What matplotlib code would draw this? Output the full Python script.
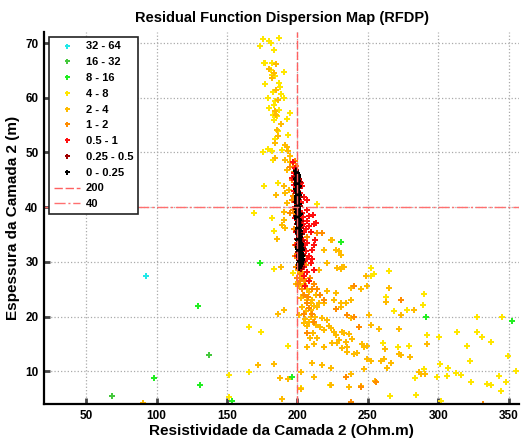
import matplotlib
matplotlib.use("Agg")
import matplotlib.pyplot as plt
from matplotlib.lines import Line2D

plt.rcParams['font.family'] = ['Liberation Sans', 'DejaVu Sans']
plt.rcParams['font.weight'] = 'bold'

# faixas de residuo (legenda) e cores
bins = ['32 - 64', '16 - 32', '8 - 16', '4 - 8', '2 - 4', '1 - 2',
        '0.5 - 1', '0.25 - 0.5', '0 - 0.25']
colors = ['#22e8e8', '#44c83c', '#22ee22', '#ffe600', '#ffbb00', '#ff8c00',
          '#ff1010', '#a00000', '#000000']

# pontos (resistividade, espessura) por faixa
cyan_x = [92.7]
cyan_y = [27.5]

g16_x = [68.2, 137.0]
g16_y = [5.4, 12.9]

g8_x = [173.3, 129.4, 130.6, 98.3, 153.6, 196.0, 230.6, 291.1, 352.7]
g8_y = [29.7, 21.9, 7.5, 8.8, 4.5, 8.9, 33.7, 19.9, 19.2]

y4_x = [175.6, 186.7, 179.9, 181.5, 173.7, 183.0, 176.6, 177.3, 182.2, 181.3,
        190.3, 182.2, 184.1, 176.8, 187.2, 187.5, 182.7, 188.2, 178.9, 184.4,
        190.3, 183.2, 179.6, 186.7, 182.5, 195.0, 185.8, 192.4, 183.2, 186.0,
        193.1, 183.9, 178.9, 175.6, 181.8, 189.1, 182.3, 176.1, 186.0, 169.5,
        181.8, 214.0, 183.4, 183.2, 196.5, 165.7, 174.2, 193.1, 165.7, 151.7,
        151.2, 252.4, 265.0, 251.9, 254.3, 262.6, 289.9, 289.4, 268.5, 278.0,
        327.8, 345.6, 292.2, 300.5, 313.6, 327.8, 331.4, 337.3, 320.7, 301.0,
        306.9, 322.6, 355.1, 289.9, 299.4, 306.5, 312.4, 315.9, 343.2, 349.6,
        323.0, 334.9, 337.7, 347.9, 344.9, 283.9, 301.7, 265.7, 283.2, 261.0,
        271.4, 279.2, 202.3, 223.0]
y4_y = [70.7, 70.9, 70.3, 70.0, 69.5, 68.7, 66.3, 66.4, 66.3, 65.0,
        64.8, 64.2, 63.9, 62.5, 62.7, 62.0, 61.1, 60.6, 59.9, 59.4,
        59.9, 58.7, 58.2, 57.8, 56.9, 57.2, 56.6, 56.2, 55.9, 53.9,
        53.2, 52.4, 50.7, 50.0, 50.3, 50.4, 48.6, 43.9, 44.4, 39.0,
        38.0, 40.5, 35.7, 28.6, 28.0, 18.0, 17.1, 14.6, 9.9, 5.2,
        9.3, 28.8, 28.4, 27.4, 27.7, 23.6, 24.1, 22.1, 21.0, 21.2,
        20.0, 20.0, 16.6, 16.3, 17.1, 17.1, 16.2, 15.4, 14.6, 11.3,
        10.6, 11.8, 10.1, 10.4, 9.0, 9.1, 9.6, 9.3, 9.2, 12.7,
        8.1, 7.6, 7.5, 8.1, 6.4, 5.7, 4.5, 5.4, 8.7, 15.1,
        14.5, 14.6, 6.9, 7.5]

y2_x = [184.6, 180.1, 183.2, 182.0, 185.1, 186.0, 183.9, 184.6, 188.4, 185.3,
        186.3, 184.4, 191.3, 192.4, 193.4, 184.4, 194.6, 195.0, 191.3, 192.7,
        190.3, 185.1, 191.5, 193.9, 190.3, 192.7, 190.8, 189.1, 191.5, 185.6,
        188.4, 190.8, 186.0, 172.1, 183.2, 187.5, 193.4, 188.7, 90.3,
        218.8, 223.5, 224.7, 229.4, 230.6, 227.1, 231.8, 228.2, 230.6, 233.0,
        221.1, 215.2, 248.4, 227.1, 237.7, 244.8, 249.1, 265.0, 262.6, 225.9,
        230.6, 234.2, 238.2, 230.6, 273.3, 282.8, 237.7, 250.8, 221.1, 218.8,
        214.0, 209.3, 212.8, 217.6, 221.1, 218.8, 222.3, 225.9, 229.4, 233.0,
        224.7, 235.3, 218.8, 210.5, 217.6, 211.6, 223.5, 223.5, 202.6, 223.5,
        251.9, 257.9, 272.1, 227.1, 231.8, 236.5, 238.9, 234.2, 231.8, 228.2,
        235.4, 240.1, 242.5, 246.0, 247.2, 249.1, 261.9, 272.1, 273.6, 279.9,
        292.2, 249.6, 251.9, 259.1, 261.4, 266.2, 263.8, 247.2, 286.3, 287.5,
        290.3, 238.2, 236.5, 245.3, 254.8, 202.7, 204.5, 206.9, 202.2, 206.9,
        203.3, 201.0, 209.3, 211.0, 203.0, 205.0, 207.0, 204.0, 208.0, 210.0,
        206.0, 212.0, 201.0, 202.0, 204.0, 213.0, 215.0, 208.0, 211.0, 214.0,
        216.0, 212.0, 209.0, 207.0, 200.5, 199.0, 203.5, 205.5, 209.5, 213.5]
y2_y = [66.1, 65.2, 64.6, 63.7, 61.4, 59.6, 57.5, 56.9, 55.2, 54.1,
        53.0, 51.8, 51.4, 51.0, 50.2, 48.9, 49.3, 48.3, 48.7, 46.8,
        43.9, 42.2, 42.5, 43.2, 39.2, 40.7, 37.6, 36.7, 36.1, 34.2,
        29.1, 21.2, 20.5, 11.1, 11.3, 8.7, 8.5, 4.9, 4.2,
        32.2, 34.0, 34.0, 32.0, 31.3, 32.2, 29.1, 28.8, 28.7, 29.1,
        29.7, 28.5, 27.4, 24.3, 25.2, 25.0, 25.5, 25.3, 22.7, 23.0,
        22.4, 22.4, 23.1, 21.7, 20.3, 21.2, 19.7, 20.3, 24.6, 22.4,
        21.8, 21.2, 20.0, 19.7, 19.4, 17.5, 18.2, 17.2, 15.7, 16.9,
        15.1, 14.5, 14.5, 11.5, 11.2, 9.0, 10.5, 7.5, 9.9, 17.9,
        18.4, 17.7, 17.8, 16.6, 17.1, 16.8, 15.8, 15.4, 14.3, 15.1,
        13.5, 13.2, 13.4, 15.0, 14.5, 14.6, 14.0, 13.2, 13.0, 12.6,
        14.9, 12.3, 11.8, 11.8, 12.3, 11.5, 10.5, 10.4, 9.8, 9.5,
        9.5, 9.4, 7.1, 7.3, 8.2, 6.8, 18.8, 18.2, 23.3, 23.0,
        21.8, 20.3, 20.0, 19.0, 27.0, 26.0, 25.0, 24.0, 24.5, 23.0,
        21.0, 22.0, 25.5, 28.0, 29.5, 24.0, 22.5, 19.0, 17.0, 16.0,
        18.0, 15.0, 16.0, 14.5, 28.5, 26.0, 27.5, 19.5, 22.5, 18.5]

o1_x = [194.6, 196.2, 195.0, 198.0, 197.0, 196.5, 197.5, 198.0, 198.5, 199.0,
        199.5, 200.5, 202.0, 203.5, 205.0, 206.5, 205.0, 208.0, 210.0, 212.0,
        217.6, 214.0, 240.1, 273.8, 227.1, 235.4, 240.1, 243.7, 234.2, 255.5,
        245.5, 237.7, 332.1, 205.7, 209.0, 204.0, 203.0, 207.0, 201.0, 197.5,
        196.0, 197.5, 199.0, 198.5, 196.5, 206.0, 212.0, 214.0, 210.0, 216.0,
        219.0, 207.0, 201.5, 203.0, 204.5, 207.5]
o1_y = [47.4, 41.3, 38.9, 44.0, 42.0, 39.5, 36.0, 33.0, 31.0, 29.0,
        27.0, 26.0, 26.5, 25.0, 24.0, 22.5, 20.5, 21.5, 20.5, 19.0,
        35.2, 35.2, 25.6, 23.1, 21.3, 20.3, 20.0, 18.0, 8.9, 8.1,
        7.2, 4.3, 4.0, 26.5, 27.0, 31.0, 33.0, 34.5, 37.5, 39.0,
        45.0, 46.5, 47.5, 48.5, 48.0, 29.5, 26.0, 25.0, 25.0, 24.0,
        23.0, 17.0, 27.8, 28.2, 26.8, 23.6]

r05_x = [197.4, 196.3, 203.4, 204.6, 202.2, 206.9, 206.9, 211.0, 212.9, 208.1,
         211.6, 209.3, 206.9, 210.5, 208.1, 204.5, 211.6, 206.9, 209.3, 205.7,
         212.8, 198.0, 197.0, 198.5, 197.8, 202.5, 202.0, 203.5, 204.0, 205.0,
         204.0, 206.0, 203.5, 207.0, 205.0, 208.0, 203.0, 202.5, 198.0, 198.5,
         199.0, 199.3, 200.0, 210.0, 212.0, 208.0, 207.0, 197.6, 198.3, 202.8,
         203.8, 205.5, 204.8, 206.2]
r05_y = [46.2, 45.3, 43.8, 41.9, 40.7, 41.3, 39.5, 38.6, 37.1, 38.3,
         37.0, 35.5, 33.4, 32.2, 31.0, 29.1, 28.5, 28.2, 29.7, 25.5,
         34.0, 47.2, 48.3, 45.0, 43.0, 44.5, 42.5, 39.0, 37.0, 35.5,
         34.0, 32.0, 31.5, 30.5, 27.5, 26.5, 36.5, 38.0, 41.0, 38.0,
         35.5, 33.0, 31.0, 30.5, 33.0, 36.5, 37.5, 44.0, 40.0, 41.0,
         38.2, 33.0, 30.2, 36.0]

r025_x = [198.8, 198.6, 201.0, 198.9, 201.2, 198.8, 201.5, 199.0, 201.7, 199.1,
          202.0, 199.2, 202.4, 199.4, 202.7, 199.6, 203.0, 199.8, 203.4, 200.2,
          203.8, 200.5, 204.0, 201.0, 204.2, 201.5, 203.5, 202.5, 200.8, 201.5]
r025_y = [46.8, 45.5, 45.2, 44.2, 43.5, 42.5, 41.8, 41.0, 40.3, 39.6,
          39.0, 38.3, 37.5, 37.0, 36.2, 35.7, 35.0, 34.2, 33.8, 33.0,
          32.6, 31.8, 31.3, 30.3, 30.0, 29.3, 29.0, 28.6, 40.5, 44.6]

k0_x = [199.4, 199.8, 200.1, 199.2, 199.6, 200.3, 199.5, 199.9, 200.4, 199.3,
        199.7, 200.2, 200.6, 199.4, 199.9, 200.5, 199.6, 200.0, 200.8, 199.5,
        200.2, 200.7, 199.8, 200.4, 201.0, 199.9, 200.5, 201.1, 200.1, 200.7,
        201.3, 200.3, 200.9, 201.5, 200.5, 201.2, 201.8, 200.8, 201.4, 202.0,
        201.0, 201.7, 202.3, 201.3, 202.0, 202.6, 201.6, 202.3, 202.9, 202.0,
        199.7, 200.0, 199.6, 200.3, 199.8, 200.6, 200.2, 200.9, 200.6, 201.3,
        201.0, 201.7, 201.4, 202.2, 201.8, 202.5, 202.4,
        199.3, 200.6, 199.4, 200.8, 199.5, 201.0, 199.7, 201.2, 199.9, 201.5,
        200.0, 201.7, 200.2, 202.0, 200.4, 202.3, 200.6, 202.6, 200.9, 203.0,
        201.1, 203.2, 201.4, 203.4, 201.9]
k0_y = [46.3, 46.0, 45.6, 45.2, 44.9, 44.7, 44.3, 44.0, 43.7, 43.4,
        43.0, 42.7, 42.4, 42.1, 41.8, 41.5, 41.1, 40.8, 40.5, 40.2,
        39.9, 39.5, 39.2, 38.9, 38.6, 38.3, 37.9, 37.6, 37.3, 36.9,
        36.6, 36.2, 35.9, 35.6, 35.2, 34.9, 34.6, 34.2, 33.9, 33.5,
        33.2, 32.9, 32.5, 32.2, 31.8, 31.5, 31.1, 30.8, 30.5, 30.1,
        45.4, 43.2, 41.4, 40.0, 38.0, 37.0, 35.4, 34.4, 32.8, 32.0,
        31.3, 30.6, 29.8, 29.6, 31.8, 33.0, 30.0,
        46.6, 45.9, 44.6, 43.9, 42.9, 42.2, 41.2, 40.6, 39.7, 38.7,
        37.8, 36.8, 36.0, 35.0, 34.0, 33.3, 32.3, 31.6, 30.9, 30.3,
        29.5, 31.0, 28.9, 32.1, 29.2]

groups = [(cyan_x, cyan_y), (g16_x, g16_y), (g8_x, g8_y), (y4_x, y4_y),
          (y2_x, y2_y), (o1_x, o1_y), (r05_x, r05_y), (r025_x, r025_y),
          (k0_x, k0_y)]

rho_ref = 200
h_ref = 40

fig = plt.figure(figsize=(5.21, 4.38), dpi=100)
ax = fig.add_axes([0.0845, 0.0776, 0.912, 0.849])

handles = []
for (gx, gy), c, lab in zip(groups, colors, bins):
    ax.plot(gx, gy, linestyle='none', marker='P', markersize=4.2,
            markeredgewidth=0, color=c)
    handles.append(Line2D([], [], linestyle='none', marker='P', markersize=3.6,
                          markeredgewidth=0, color=c, label=lab))

ax.axvline(rho_ref, color='#ff6060', linestyle=(0, (6, 2)), linewidth=1)
ax.axhline(h_ref, color='#ff7070', linestyle=(0, (8, 2, 1.5, 2)), linewidth=1)
handles.append(Line2D([], [], color='#ff6060', linestyle=(0, (6, 2)),
                      linewidth=1, label=str(rho_ref)))
handles.append(Line2D([], [], color='#ff7070', linestyle=(0, (8, 2, 1.5, 2)),
                      linewidth=1, label=str(h_ref)))

ax.set_xlim(20, 357.5)
ax.set_ylim(4, 72)
ax.set_xticks([50, 100, 150, 200, 250, 300, 350])
ax.set_yticks([10, 20, 30, 40, 50, 60, 70])
ax.grid(True, linestyle=':', color='#aaaaaa', linewidth=0.9)
ax.set_axisbelow(True)
ax.tick_params(direction='in', length=4, width=2, color='#444444',
               labelsize=8.5, pad=4)
for s in ['top', 'right']:
    ax.spines[s].set_visible(False)
for s in ['left', 'bottom']:
    ax.spines[s].set_linewidth(1.6)

ax.set_title('Residual Function Dispersion Map (RFDP)', fontsize=10.5,
             fontweight='bold', pad=7)
ax.set_xlabel('Resistividade da Camada 2 (Ohm.m)', fontsize=11,
              fontweight='bold', labelpad=2)
ax.set_ylabel('Espessura da Camada 2 (m)', fontsize=11, fontweight='bold',
              labelpad=4)

leg = ax.legend(handles=handles, loc='upper left', bbox_to_anchor=(0.011, 0.987),
                borderaxespad=0, fontsize=8, handlelength=2.4,
                labelspacing=0.52, fancybox=False, framealpha=1,
                edgecolor='#222222', borderpad=0.4, handletextpad=0.5)
leg.get_frame().set_linewidth(1.2)

fig.savefig('out.png', dpi=100)
